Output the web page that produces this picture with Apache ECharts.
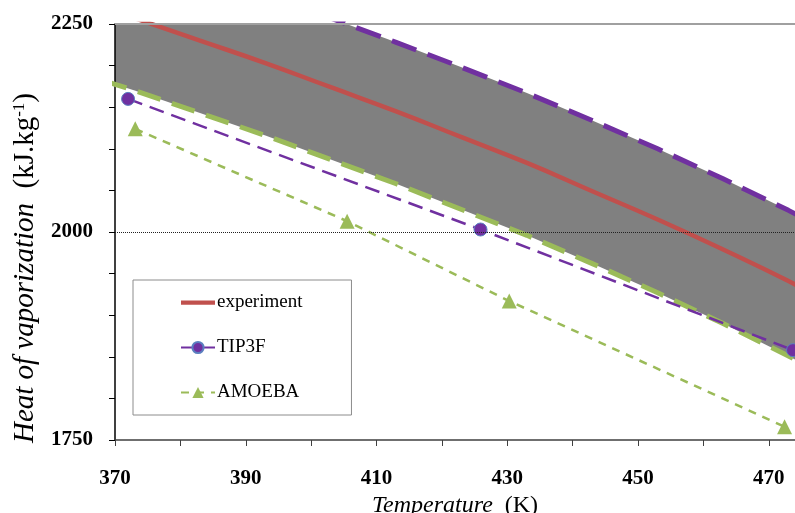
<!DOCTYPE html>
<html>
<head>
<meta charset="utf-8">
<script src="https://cdn.jsdelivr.net/npm/echarts@6/dist/echarts.min.js"></script>
<style>
  html, body { margin: 0; padding: 0; background: #fff; }
  #chart { width: 795px; height: 513px; }
</style>
</head>
<body>
<div id="chart"></div>
<script>
// temperatures (K) of the experimental curve and of the band around it
const expTemps = [363, 373, 383, 393, 403, 413, 423, 433, 443, 453, 463, 473, 483];
const expValues = [2283, 2257, 2230, 2203, 2174, 2145, 2114, 2083, 2049, 2015, 1979, 1941, 1900];
const bandUpper = [2366, 2340, 2313, 2286, 2257, 2228, 2198, 2167, 2134, 2100, 2064, 2026, 1986];
const bandLower = [2195, 2170, 2143, 2116, 2087, 2058, 2027, 1996, 1962, 1927, 1890, 1851, 1810];

const tip3fTemps = [372, 425.9, 473.7];
const tip3fValues = [2160, 2003, 1858];

const amoebaTemps = [373.1, 405.5, 430.3, 472.4];
const amoebaValues = [2124, 2013, 1917, 1766];

const xLabelValues = [370, 390, 410, 430, 450, 470];
const xTickValues = [370, 380, 390, 400, 410, 420, 430, 440, 450, 460, 470];
const yLabelValues = [1750, 2000, 2250];

const serif = 'Liberation Serif';
const pairs = (xs, ys) => xs.map((x, i) => [x, ys[i]]);

const MyEcharts = echarts.init(document.getElementById('chart'));

const option = {
  backgroundColor: '#fff',
  animation: false,
  grid: { left: 115, right: 0, top: 24, bottom: 73, outerBoundsMode: 'none', containLabel: false },
  legend: {
    orient: 'vertical',
    left: 133,
    top: 280,
    padding: [13, 49, 13, 47],
    itemGap: 26,
    itemWidth: 34,
    itemHeight: 14,
    backgroundColor: '#fff',
    borderColor: '#8c8c8c',
    borderWidth: 1,
    textStyle: { fontFamily: serif, fontSize: 19, color: '#000', padding: [0, 0, 0, -3] },
    data: [
      { name: 'experiment', icon: 'path://M0,0H40V5H0Z' },
      'TIP3F',
      'AMOEBA',
    ],
  },
  xAxis: {
    type: 'value',
    z: 3,
    min: 370,
    max: 474,
    interval: 10,
    name: '{i|Temperature}{n|  (K)}',
    nameLocation: 'middle',
    nameGap: 50,
    nameTextStyle: {
      rich: {
        i: { fontFamily: serif, fontStyle: 'italic', fontSize: 24, color: '#000' },
        n: { fontFamily: serif, fontSize: 24, color: '#000' },
      },
    },
    axisLine: { onZero: false, lineStyle: { color: '#404040', width: 1.5 } },
    axisTick: { inside: false, length: 6, customValues: xTickValues, lineStyle: { color: '#404040' } },
    axisLabel: {
      customValues: xLabelValues,
      formatter: (v) => String(v),
      margin: 28,
      fontFamily: serif,
      fontWeight: 'bold',
      fontSize: 21,
      color: '#000',
    },
    splitLine: { show: false },
  },
  yAxis: {
    type: 'value',
    z: 3,
    min: 1750,
    max: 2250,
    interval: 50,
    name: '{i|Heat of vaporization}{n|  (kJ.kg}{s|-1}{n|)}',
    nameLocation: 'middle',
    nameRotate: 90,
    nameGap: 66,
    nameTextStyle: {
      padding: [0, 72, 0, 0],
      rich: {
        i: { fontFamily: serif, fontStyle: 'italic', fontSize: 29, color: '#000' },
        n: { fontFamily: serif, fontSize: 29, color: '#000' },
        s: { fontFamily: serif, fontSize: 17, color: '#000', verticalAlign: 'top', padding: [0, 0, 12, 0] },
      },
    },
    axisLine: { show: true, lineStyle: { color: '#000', width: 1.5 } },
    axisTick: { show: true, inside: false, length: 6, lineStyle: { color: '#000' } },
    axisLabel: {
      customValues: yLabelValues,
      formatter: (v) => String(v),
      margin: 22,
      fontFamily: serif,
      fontWeight: 'bold',
      fontSize: 21,
      color: '#000',
    },
    splitLine: { show: false },
  },
  series: [
    {
      // grey band: filled from the upper edge down, then whited out below the lower edge
      name: 'bandTop',
      type: 'line',
      data: pairs(expTemps, bandUpper),
      symbol: 'none',
      silent: true,
      lineStyle: { width: 0, opacity: 0 },
      areaStyle: { color: '#808080', opacity: 1, origin: 'start' },
    },
    {
      name: 'bandBottom',
      type: 'line',
      data: pairs(expTemps, bandLower),
      symbol: 'none',
      silent: true,
      lineStyle: { width: 0, opacity: 0 },
      areaStyle: { color: '#ffffff', opacity: 1, origin: 'start' },
    },
    {
      name: 'upper',
      type: 'line',
      data: pairs(expTemps, bandUpper),
      symbol: 'none',
      silent: true,
      lineStyle: { color: '#7030a0', width: 5, type: [26, 12] },
    },
    {
      name: 'lower',
      type: 'line',
      data: pairs(expTemps, bandLower),
      symbol: 'none',
      silent: true,
      lineStyle: { color: '#9bbb59', width: 5, type: [24, 12] },
    },
    {
      name: 'experiment',
      type: 'line',
      data: pairs(expTemps, expValues),
      symbol: 'none',
      smooth: true,
      lineStyle: { color: '#c0504d', width: 4.5 },
      itemStyle: { color: '#c0504d' },
      markLine: {
        silent: true,
        symbol: 'none',
        label: { show: false },
        data: [
          { yAxis: 2000, lineStyle: { color: '#222', width: 1, type: [1, 1] } },
          { yAxis: 2250, lineStyle: { color: '#a0a0a0', width: 2, type: 'solid' } },
        ],
      },
    },
    {
      name: 'TIP3F',
      type: 'line',
      data: pairs(tip3fTemps, tip3fValues),
      symbol: 'circle',
      symbolSize: 13,
      lineStyle: { color: '#7030a0', width: 2.5, type: [15, 8] },
      itemStyle: { color: '#7030a0', borderColor: '#5b7fc0', borderWidth: 1 },
    },
    {
      name: 'AMOEBA',
      type: 'line',
      data: pairs(amoebaTemps, amoebaValues),
      symbol: 'triangle',
      symbolSize: 15,
      lineStyle: { color: '#9bbb59', width: 2.5, type: [8, 7] },
      itemStyle: { color: '#9bbb59' },
    },
  ],
};

MyEcharts.setOption(option);
</script>
</body>
</html>
